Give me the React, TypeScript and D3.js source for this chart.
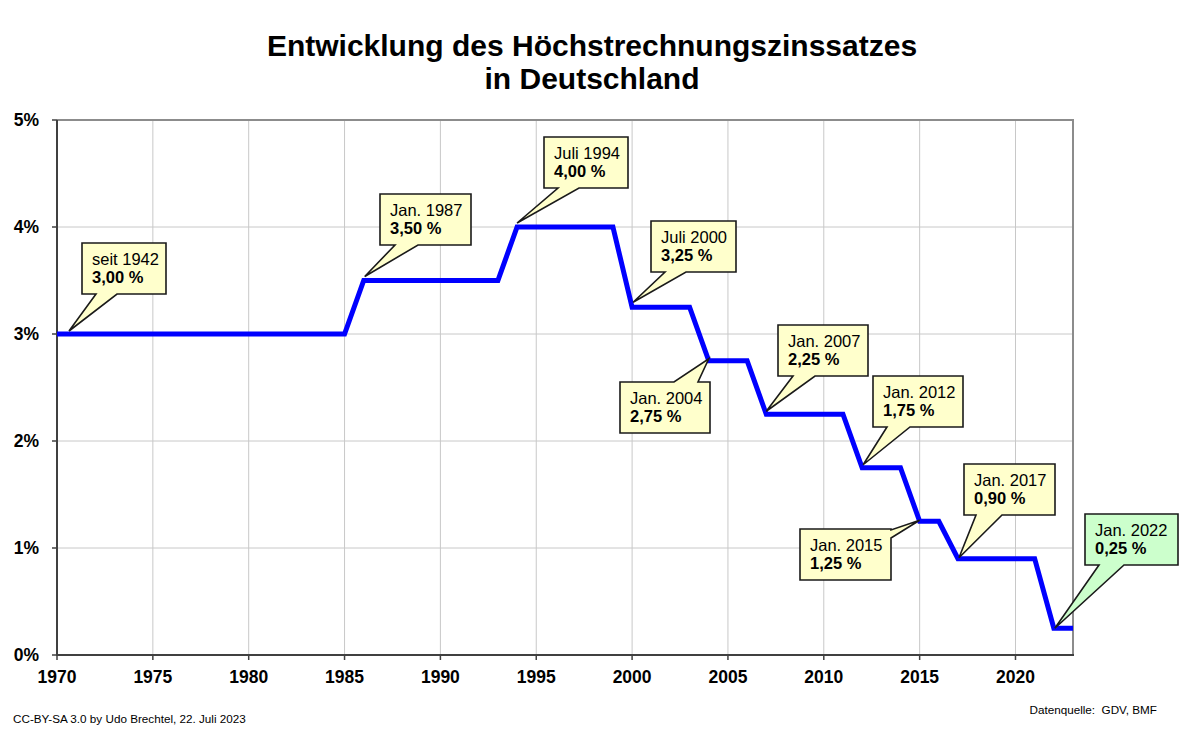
import React from "react";
import * as d3 from "d3";

// ---- data ----
const stepYears = [1970, 1985, 1986, 1993, 1994, 1999, 2000, 2003, 2004, 2006, 2007, 2011, 2012, 2014, 2015, 2016, 2017, 2021, 2022, 2023];
const stepRates = [3.0, 3.0, 3.5, 3.5, 4.0, 4.0, 3.25, 3.25, 2.75, 2.75, 2.25, 2.25, 1.75, 1.75, 1.25, 1.25, 0.9, 0.9, 0.25, 0.25];

const calloutDates = ["seit 1942", "Jan. 1987", "Juli 1994", "Juli 2000", "Jan. 2004", "Jan. 2007", "Jan. 2012", "Jan. 2015", "Jan. 2017", "Jan. 2022"];
const calloutYears = [1970, 1986, 1994, 2000, 2004, 2007, 2012, 2015, 2017, 2022];
const calloutRates = [3.0, 3.5, 4.0, 3.25, 2.75, 2.25, 1.75, 1.25, 0.9, 0.25];

const xTickYears = [1970, 1975, 1980, 1985, 1990, 1995, 2000, 2005, 2010, 2015, 2020];
const yTickValues = [0, 1, 2, 3, 4, 5];

const titleLines = ["Entwicklung des Höchstrechnungszinssatzes", "in Deutschland"];
const footLeft = "CC-BY-SA 3.0 by Udo Brechtel, 22. Juli 2023";
const footRight = "Datenquelle:  GDV, BMF";

// ---- layout (pixel placement of callout boxes relative to their tip) ----
type Side = "bottom" | "top" | "right";
const calloutLayout: { dx: number; dy: number; w: number; side: Side; b0: number; b1: number; tdx: number; tdy: number; fill: string }[] = [
  { dx: 25, dy: -91, w: 84, side: "bottom", b0: 14, b1: 35, tdx: 12, tdy: -3, fill: "#FFFFCC" },
  { dx: 16, dy: -87, w: 91, side: "bottom", b0: 15, b1: 38, tdx: 1, tdy: -4, fill: "#FFFFCC" },
  { dx: 27, dy: -90, w: 84, side: "bottom", b0: 14, b1: 35, tdx: 0, tdy: -4, fill: "#FFFFCC" },
  { dx: 19, dy: -86, w: 85, side: "bottom", b0: 14, b1: 35, tdx: 1, tdy: -5, fill: "#FFFFCC" },
  { dx: -89, dy: 21, w: 90, side: "top", b0: 54, b1: 78, tdx: 0, tdy: -2, fill: "#FFFFCC" },
  { dx: 12, dy: -89, w: 90, side: "bottom", b0: 15, b1: 37, tdx: 0, tdy: -3, fill: "#FFFFCC" },
  { dx: 11, dy: -92, w: 90, side: "bottom", b0: 14, b1: 37, tdx: 1, tdy: -3, fill: "#FFFFCC" },
  { dx: -120, dy: 8, w: 91, side: "right", b0: 1, b1: 9, tdx: 0, tdy: -1, fill: "#FFFFCC" },
  { dx: 6, dy: -95, w: 91, side: "bottom", b0: 12, b1: 38, tdx: 1, tdy: -1, fill: "#FFFFCC" },
  { dx: 31, dy: -114, w: 93, side: "bottom", b0: 14, b1: 39, tdx: 1, tdy: 0, fill: "#CCFFCC" },
];
const BOX_H = 51;

const W = 1200;
const H = 734;
const FONT = "'Liberation Sans', Arial, Helvetica, sans-serif";

export default function App() {
  const x = d3.scaleLinear().domain([1970, 2023]).range([57, 1073]);
  const y = d3.scaleLinear().domain([0, 5]).range([655, 120]);

  const pts: [number, number][] = stepYears.map((yr, i) => [yr, stepRates[i]]);
  const line = d3
    .line<[number, number]>()
    .x((d) => x(d[0]))
    .y((d) => y(d[1]));

  const fmtRate = (v: number) => d3.format(".2f")(v).replace(".", ",") + " %";

  const x0 = x.range()[0];
  const x1 = x.range()[1];
  const y0 = y.range()[0];
  const y1 = y.range()[1];

  const callouts = calloutDates.map((lab, i) => {
    const L = calloutLayout[i];
    const tx = x(calloutYears[i]) + L.tdx;
    const ty = y(calloutRates[i]) + L.tdy;
    const bx = Math.round(x(calloutYears[i]) + L.dx);
    const by = Math.round(y(calloutRates[i]) + L.dy);
    const r = bx + L.w;
    const b = by + BOX_H;
    let d = "";
    if (L.side === "bottom") {
      d = `M${bx},${by}H${r}V${b}H${bx + L.b1}L${tx},${ty}L${bx + L.b0},${b}H${bx}Z`;
    } else if (L.side === "top") {
      d = `M${bx},${by}H${bx + L.b0}L${tx},${ty}L${bx + L.b1},${by}H${r}V${b}H${bx}Z`;
    } else {
      d = `M${bx},${by}H${r}V${by + L.b0}L${tx},${ty}L${r},${by + L.b1}V${b}H${bx}Z`;
    }
    return { lab, rate: fmtRate(calloutRates[i]), bx, by, d, fill: L.fill, key: i };
  });

  return (
    <svg
      width={W}
      height={H}
      viewBox={`0 0 ${W} ${H}`}
      style={{ position: "absolute", left: 0, top: 0, display: "block", background: "#fff" }}
      fontFamily={FONT}
    >
      <rect x={0} y={0} width={W} height={H} fill="#ffffff" />
      {/* title */}
      {titleLines.map((t, i) => (
        <text key={t} x={592} y={56 + i * 33} textAnchor="middle" fontSize={30} fontWeight="bold" fill="#000">
          {t}
        </text>
      ))}

      {/* grid */}
      {xTickYears.filter((v) => v > 1970).map((v) => (
        <line key={"gx" + v} x1={x(v)} x2={x(v)} y1={y1} y2={y0} stroke="#C8C8C8" strokeWidth={1} />
      ))}
      {yTickValues.filter((v) => v > 0 && v < 5).map((v) => (
        <line key={"gy" + v} x1={x0} x2={x1} y1={y(v)} y2={y(v)} stroke="#C8C8C8" strokeWidth={1} />
      ))}

      {/* frame */}
      <line x1={x0} x2={x1 + 1} y1={y1} y2={y1} stroke="#8c8c8c" strokeWidth={2} />
      <line x1={x1} x2={x1} y1={y1} y2={y0} stroke="#8c8c8c" strokeWidth={2} />
      <line x1={x0} x2={x0} y1={y1} y2={y0 + 1} stroke="#404040" strokeWidth={2} />
      <line x1={x0 - 1} x2={x1 + 1} y1={y0} y2={y0} stroke="#404040" strokeWidth={2} />

      {/* ticks */}
      {yTickValues.map((v) => (
        <g key={"ty" + v}>
          <line x1={x0 - 5} x2={x0} y1={y(v)} y2={y(v)} stroke="#404040" strokeWidth={1.5} />
          <text x={39} y={y(v)} dy="0.36em" textAnchor="end" fontSize={17.5} fontWeight="bold" fill="#000">
            {v + "%"}
          </text>
        </g>
      ))}
      {xTickYears.map((v) => (
        <g key={"tx" + v}>
          <line x1={x(v)} x2={x(v)} y1={y0} y2={y0 + 5} stroke="#404040" strokeWidth={1.5} />
          <text x={x(v)} y={683} textAnchor="middle" fontSize={17.5} fontWeight="bold" fill="#000">
            {v}
          </text>
        </g>
      ))}

      {/* series */}
      <path d={line(pts) || ""} fill="none" stroke="#0000FF" strokeWidth={5} strokeLinejoin="miter" />

      {/* callouts */}
      {callouts.map((c) => (
        <g key={c.key}>
          <path d={c.d} fill={c.fill} stroke="#1a1a1a" strokeWidth={1.6} strokeLinejoin="miter" />
          <text x={c.bx + 10} y={c.by + 22} fontSize={16.5} fill="#000">
            {c.lab}
          </text>
          <text x={c.bx + 10} y={c.by + 40} fontSize={16.5} fontWeight="bold" fill="#000">
            {c.rate}
          </text>
        </g>
      ))}

      {/* footer */}
      <text x={13} y={723} fontSize={11.7} fill="#000">
        {footLeft}
      </text>
      <text x={1157} y={714} textAnchor="end" fontSize={11.7} fill="#000" style={{ whiteSpace: "pre" }}>
        {footRight}
      </text>
    </svg>
  );
}
